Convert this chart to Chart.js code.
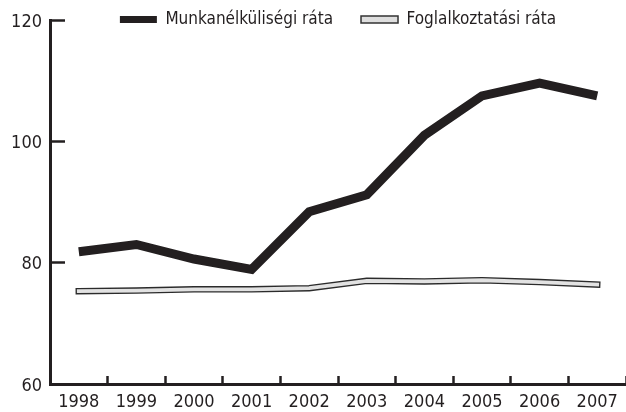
<!DOCTYPE html>
<html>
<head>
<meta charset="utf-8">
<script src="https://cdn.jsdelivr.net/npm/chart.js@4"></script>
<style>
  html, body { margin: 0; padding: 0; background: #fff; }
  #wrap { width: 626px; height: 412px; }
</style>
</head>
<body>
<div id="wrap"><canvas id="rateChart"></canvas></div>
<script>
const years = ['1998', '1999', '2000', '2001', '2002', '2003', '2004', '2005', '2006', '2007'];
const seriesNames = ['Munkanélküliségi ráta', 'Foglalkoztatási ráta'];
const unemployment = [81.8, 83.0, 80.6, 78.9, 88.4, 91.2, 101.0, 107.5, 109.6, 107.5];
const employment = [75.3, 75.4, 75.6, 75.6, 75.8, 77.0, 76.9, 77.1, 76.8, 76.4];
const yTicks = [60, 80, 100, 120];

const FONT = "'Liberation Sans Narrow', 'DejaVu Sans Condensed', sans-serif";
const INK = '#231f20';
const RIGHT_BLEED = -8; // x axis runs a bit past the canvas edge

// legend sits above the plot without taking layout space
const legendShift = {
    id: 'legendShift',
    afterLayout(chart) {
        if (chart.legend) {
            chart.legend.top = -17;
            chart.legend.bottom = 40;
        }
    }
};

new Chart(document.getElementById('rateChart'), {
    type: 'line',
    data: {
        labels: years,
        datasets: [
            {
                label: seriesNames[0],
                data: unemployment,
                borderColor: INK,
                borderWidth: 9,
                pointRadius: 0,
                tension: 0,
                borderCapStyle: 'butt'
            },
            {
                label: seriesNames[1],
                data: employment,
                borderColor: '#e2e2e2',
                borderWidth: 3.8,
                pointRadius: 0,
                tension: 0,
                borderCapStyle: 'square'
            },
            {
                label: seriesNames[1] + ' outline',
                data: employment,
                borderColor: '#2b2b2b',
                borderWidth: 6.5,
                pointRadius: 0,
                tension: 0,
                borderCapStyle: 'square'
            }
        ]
    },
    options: {
        responsive: true,
        maintainAspectRatio: false,
        animation: false,
        layout: { autoPadding: false, padding: { top: 19, right: RIGHT_BLEED, bottom: 0, left: 0 } },
        plugins: {
            legend: {
                position: 'top',
                fullSize: false,
                maxHeight: 1,
                labels: {
                    color: INK,
                    font: { family: FONT, size: 17 },
                    boxWidth: 37,
                    boxHeight: 7,
                    padding: 28,
                    generateLabels: () => [
                        { text: seriesNames[0], fillStyle: INK, strokeStyle: INK, lineWidth: 0, datasetIndex: 0, fontColor: INK },
                        { text: seriesNames[1], fillStyle: '#dedede', strokeStyle: '#333', lineWidth: 1.5, datasetIndex: 1, fontColor: INK }
                    ]
                }
            },
            tooltip: { enabled: false }
        },
        scales: {
            x: {
                type: 'category',
                offset: true,
                afterFit: s => { s.height = 28; s.paddingLeft = 0; s.paddingRight = RIGHT_BLEED; },
                grid: {
                    offset: true,
                    drawOnChartArea: false,
                    drawTicks: true,
                    tickLength: -8,
                    tickWidth: 2.5,
                    tickColor: INK,
                    color: INK
                },
                border: { display: true, color: INK, width: 3 },
                ticks: {
                    color: INK,
                    font: { family: FONT, size: 18 },
                    padding: 16,
                    maxRotation: 0,
                    autoSkip: false
                }
            },
            y: {
                min: 60,
                max: 120,
                afterFit: s => {
                    s.width = 50;
                    s.paddingTop = 0;
                    s.paddingBottom = 0;
                    s.paddingLeft = 0;
                    s.paddingRight = RIGHT_BLEED;
                },
                afterBuildTicks: s => { s.ticks = yTicks.map(v => ({ value: v })); },
                grid: {
                    drawOnChartArea: false,
                    drawTicks: true,
                    tickLength: -15,
                    tickWidth: 2.5,
                    tickColor: INK,
                    color: INK
                },
                border: { display: true, color: INK, width: 3 },
                ticks: {
                    color: INK,
                    font: { family: FONT, size: 18 },
                    padding: 23,
                    labelOffset: 2
                }
            }
        }
    },
    plugins: [legendShift]
});
</script>
</body>
</html>
